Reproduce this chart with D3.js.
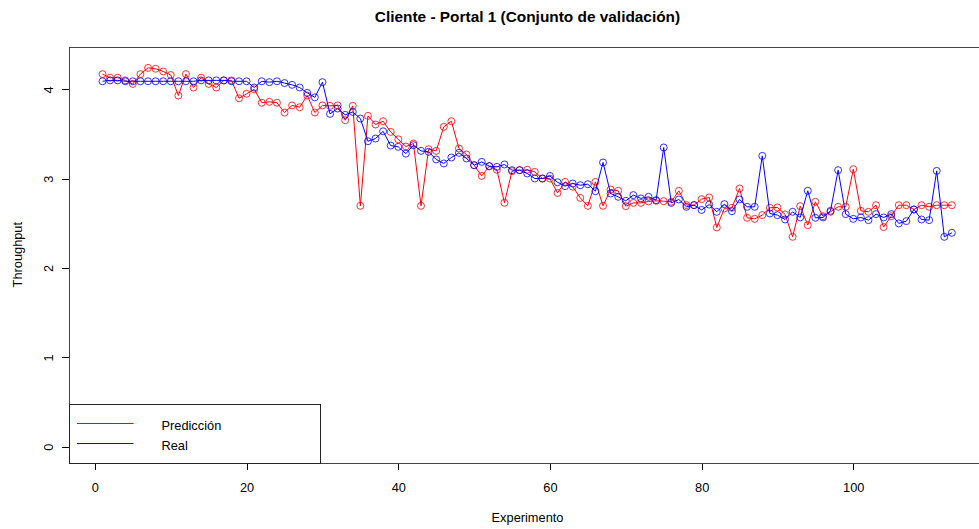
<!DOCTYPE html>
<html>
<head>
<meta charset="utf-8">
<script src="https://cdn.jsdelivr.net/npm/d3@7"></script>
<style>
  html, body { margin: 0; padding: 0; background: #fff; }
  svg { display: block; }
  text { font-family: "Liberation Sans", Arial, sans-serif; fill: #000; }
</style>
</head>
<body>
<svg id="chart" width="979" height="529"></svg>
<script>
const title = "Cliente - Portal 1 (Conjunto de validación)";
const xLabel = "Experimento";
const yLabel = "Throughput";
const seriesNames = ["Predicción", "Real"];
const xTicks = [0, 20, 40, 60, 80, 100];
const yTicks = [0, 1, 2, 3, 4];

const prediccion = [
  4.17, 4.13, 4.13, 4.10, 4.06, 4.17, 4.24, 4.23, 4.20, 4.16,
  3.93, 4.17, 4.02, 4.13, 4.06, 4.02, 4.10, 4.10, 3.90, 3.95,
  4.00, 3.85, 3.86, 3.85, 3.74, 3.82, 3.80, 3.93, 3.74, 3.82,
  3.815, 3.82, 3.654, 3.815, 2.696, 3.703, 3.606, 3.643, 3.523, 3.44, 3.36,
  3.393, 2.696, 3.33, 3.311, 3.58, 3.643, 3.338, 3.27, 3.151, 3.031,
  3.14, 3.10, 2.73, 3.084, 3.095, 3.10, 3.076, 3.002, 3.0, 2.84,
  2.964, 2.91, 2.785, 2.696, 2.964, 2.696, 2.879, 2.864, 2.692, 2.729,
  2.729, 2.745, 2.752, 2.748, 2.741, 2.864, 2.704, 2.704, 2.771, 2.79,
  2.454, 2.667, 2.674, 2.89, 2.562, 2.55, 2.592, 2.674, 2.678, 2.6,
  2.349, 2.692, 2.48, 2.741, 2.58, 2.629, 2.685, 2.685, 3.106, 2.64,
  2.629, 2.703, 2.458, 2.58, 2.703, 2.703, 2.655, 2.703, 2.685, 2.703, 2.703, 2.703
];

const real = [
  4.09, 4.10, 4.10, 4.09, 4.09, 4.09, 4.09, 4.09, 4.09, 4.09,
  4.09, 4.09, 4.09, 4.10, 4.10, 4.10, 4.10, 4.09, 4.09, 4.09,
  4.02, 4.09, 4.08, 4.09, 4.07, 4.05, 4.02, 3.96, 3.91, 4.08,
  3.725, 3.785, 3.714, 3.747, 3.673, 3.419, 3.449, 3.53, 3.37, 3.356, 3.28,
  3.375, 3.311, 3.30, 3.215, 3.17, 3.237, 3.289, 3.226, 3.151, 3.188,
  3.14, 3.132, 3.159, 3.095, 3.095, 3.058, 3.002, 3.002, 3.03, 2.96,
  2.916, 2.946, 2.927, 2.938, 2.86, 3.181, 2.834, 2.797, 2.752, 2.816,
  2.779, 2.797, 2.76, 3.349, 2.729, 2.767, 2.685, 2.704, 2.65, 2.71,
  2.629, 2.715, 2.636, 2.767, 2.685, 2.685, 3.255, 2.61, 2.592, 2.543,
  2.629, 2.566, 2.864, 2.562, 2.566, 2.64, 3.095, 2.603, 2.55, 2.566,
  2.536, 2.603, 2.566, 2.603, 2.499, 2.525, 2.655, 2.543, 2.536, 3.087, 2.349, 2.394
];

const colors = ["#ff0000", "#0000ff"];

const svg = d3.select("#chart");
const W = 979, H = 529;
const plot = { left: 69, right: 986, top: 46.7, bottom: 462.7 };

const x = d3.scaleLinear().domain([-3.42, 117.5]).range([plot.left, plot.right]);
const y = d3.scaleLinear().domain([-0.179, 4.477]).range([plot.bottom, plot.top]);

const fs = 12.8;

// Title
svg.append("text")
  .attr("x", 527.5).attr("y", 22)
  .attr("text-anchor", "middle")
  .style("font-weight", "bold").style("font-size", "15.4px")
  .text(title);

// Axes
const xAxis = svg.append("g")
  .attr("transform", `translate(0,${plot.bottom})`)
  .call(d3.axisBottom(x).tickValues(xTicks).tickSize(7.5).tickPadding(13).tickFormat(d3.format("d")));
xAxis.select(".domain").remove();
xAxis.selectAll("line").attr("stroke", "#000").attr("shape-rendering", "crispEdges");
xAxis.selectAll("text").style("font-size", fs + "px").attr("fill", "#000").attr("font-family", null);

const yAxis = svg.append("g")
  .attr("transform", `translate(${plot.left},0)`)
  .call(d3.axisLeft(y).tickValues(yTicks).tickSize(7.5).tickFormat(d3.format("d")));
yAxis.select(".domain").remove();
yAxis.selectAll("line").attr("stroke", "#000").attr("shape-rendering", "crispEdges");
yAxis.selectAll("text")
  .attr("x", null).attr("dy", null)
  .attr("text-anchor", "middle")
  .attr("transform", "translate(-16,0) rotate(-90)")
  .style("font-size", fs + "px").attr("fill", "#000").attr("font-family", null);

// Axis labels
svg.append("text")
  .attr("x", 527.5).attr("y", 521.5)
  .attr("text-anchor", "middle").style("font-size", fs + "px")
  .text(xLabel);
svg.append("text")
  .attr("transform", `translate(21.5,${(plot.top + plot.bottom) / 2}) rotate(-90)`)
  .attr("text-anchor", "middle").style("font-size", fs + "px")
  .text(yLabel);

// Clip
svg.append("clipPath").attr("id", "clip")
  .append("rect").attr("x", plot.left).attr("y", plot.top)
  .attr("width", W - plot.left).attr("height", plot.bottom - plot.top);

const gData = svg.append("g").attr("clip-path", "url(#clip)");
const line = d3.line().x((d, i) => x(i + 1)).y(d => y(d));

[prediccion, real].forEach((series, k) => {
  const g = gData.append("g");
  g.append("path").datum(series)
    .attr("d", line).attr("fill", "none")
    .attr("stroke", colors[k]).attr("stroke-width", 1);
  g.selectAll("circle").data(series).join("circle")
    .attr("cx", (d, i) => x(i + 1)).attr("cy", d => y(d))
    .attr("r", 3.5).attr("fill", "none")
    .attr("stroke", colors[k]).attr("stroke-width", 1)
    .attr("stroke-opacity", 0.8);
});

// Plot box (right edge lies outside the image)
svg.append("rect")
  .attr("x", plot.left + 0.5).attr("y", Math.round(plot.top) + 0.5)
  .attr("width", plot.right - plot.left).attr("height", Math.round(plot.bottom) - Math.round(plot.top))
  .attr("fill", "none").attr("stroke", "#444").attr("stroke-width", 1);

// Legend
const legend = svg.append("g");
const lgTop = 404.5, lgRight = 320.5;
legend.append("rect")
  .attr("x", plot.left + 0.5).attr("y", lgTop)
  .attr("width", lgRight - plot.left - 0.5).attr("height", Math.round(plot.bottom) + 0.5 - lgTop)
  .attr("fill", "#fff").attr("stroke", "#222").attr("stroke-width", 1);
const lgRows = [423.5, 443.5];
seriesNames.forEach((name, k) => {
  legend.append("line")
    .attr("x1", 77).attr("x2", 133.5)
    .attr("y1", lgRows[k]).attr("y2", lgRows[k])
    .attr("stroke", colors[k]).attr("stroke-width", 1);
  legend.append("text")
    .attr("x", 161.5).attr("y", lgRows[k] + 6)
    .style("font-size", fs + "px")
    .text(name);
});
</script>
</body>
</html>
